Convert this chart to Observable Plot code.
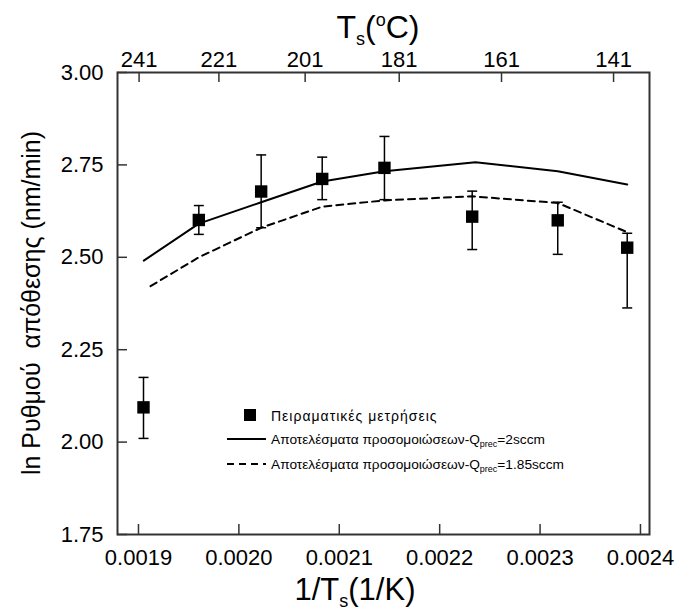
<!DOCTYPE html>
<html><head><meta charset="utf-8">
<script src="https://cdn.jsdelivr.net/npm/d3@7"></script>
<script src="https://cdn.jsdelivr.net/npm/@observablehq/plot@0.6"></script>
<style>body{margin:0;background:#fff;} #chart{width:675px;height:610px;}</style>
</head><body><div id="chart"></div>
<script>
// Experimental measurements
const invT     = [0.001905, 0.0019601, 0.0020222, 0.0020830, 0.0021450, 0.0022324, 0.0023176, 0.0023868];
const rate     = [2.094, 2.601, 2.678, 2.712, 2.742, 2.610, 2.600, 2.526];
const rateLow  = [2.010, 2.562, 2.580, 2.656, 2.656, 2.521, 2.508, 2.363];
const rateHigh = [2.175, 2.640, 2.777, 2.771, 2.827, 2.679, 2.649, 2.565];
// Simulation Qprec = 2 sccm
const sim2X = [0.0019053, 0.0019601, 0.0020222, 0.0020830, 0.0021450, 0.0022357, 0.0023176, 0.0023868];
const sim2Y = [2.491, 2.591, 2.649, 2.705, 2.733, 2.757, 2.733, 2.697];
// Simulation Qprec = 1.85 sccm
const sim185X = [0.001912, 0.0019601, 0.0020222, 0.0020830, 0.0021450, 0.0022324, 0.0023176, 0.0023868];
const sim185Y = [2.422, 2.500, 2.580, 2.637, 2.654, 2.665, 2.647, 2.568];
// Axes
const xTicks = [0.0019, 0.0020, 0.0021, 0.0022, 0.0023, 0.0024];
const yTicks = [1.75, 2.00, 2.25, 2.50, 2.75, 3.00];
const topTickPos = [0.0019006, 0.0019801, 0.0020660, 0.0021597, 0.0022616, 0.0023732];
const topTickLabels = ["241", "221", "201", "181", "161", "141"];
const xDomain = [0.0018791, 0.002409];
const yDomain = [1.75, 3.0];

const meas = invT.map((x, i) => ({x, y: rate[i], lo: rateLow[i], hi: rateHigh[i]}));
const s2 = sim2X.map((x, i) => ({x, y: sim2Y[i]}));
const s185 = sim185X.map((x, i) => ({x, y: sim185Y[i]}));
const topMap = new Map(topTickPos.map((v, i) => [v, topTickLabels[i]]));

const W = 675, H = 610, mL = 117, mR = 26, mT = 72, mB = 76;
const frameW = W - mL - mR, frameH = H - mT - mB, tickLen = 10;
const cap = {draw(ctx) { ctx.moveTo(-5, 0); ctx.lineTo(5, 0); }};
const FONT = "'Liberation Sans', Arial, sans-serif";

const chart = Plot.plot({
  width: W, height: H, marginLeft: mL, marginRight: mR, marginTop: mT, marginBottom: mB,
  style: {fontFamily: FONT, fontSize: "22px", color: "#000", background: "#fff"},
  x: {domain: xDomain},
  y: {domain: yDomain},
  marks: [
    Plot.axisX(xTicks, {anchor: "bottom", tickSize: 0, tickPadding: 15, tickFormat: d3.format(".4f"), label: null, fontSize: 22}),
    Plot.axisX(topTickPos, {anchor: "top", tickSize: 0, tickPadding: 6, tickFormat: d => topMap.get(d), label: null, fontSize: 22}),
    Plot.axisY(yTicks, {anchor: "left", tickSize: 0, tickPadding: 14, tickFormat: d3.format(".2f"), label: null, fontSize: 22}),
    Plot.ruleX(xTicks, {x: d => d, insetTop: frameH - tickLen, stroke: "#333", strokeWidth: 1.5}),
    Plot.ruleX(topTickPos, {x: d => d, insetBottom: frameH - tickLen, stroke: "#333", strokeWidth: 1.5}),
    Plot.ruleY(yTicks, {y: d => d, insetRight: frameW - tickLen, stroke: "#333", strokeWidth: 1.5}),
    Plot.line(s2, {x: "x", y: "y", stroke: "#000", strokeWidth: 2}),
    Plot.line(s185, {x: "x", y: "y", stroke: "#000", strokeWidth: 2, strokeDasharray: "7,5"}),
    Plot.ruleX(meas, {x: "x", y1: "lo", y2: "hi", stroke: "#000", strokeWidth: 1.5}),
    Plot.dot(meas, {x: "x", y: "lo", symbol: cap, stroke: "#000", strokeWidth: 1.5}),
    Plot.dot(meas, {x: "x", y: "hi", symbol: cap, stroke: "#000", strokeWidth: 1.5}),
    Plot.dot(meas, {x: "x", y: "y", symbol: "square", r: 7, fill: "#000", stroke: "none"}),
    Plot.frame({stroke: "#333", strokeWidth: 2})
  ]
});
document.getElementById("chart").appendChild(chart);

const svg = d3.select(chart);
const cx = mL + frameW / 2;
// top title
const tt = svg.append("text").attr("x", cx - 5).attr("y", 38).attr("text-anchor", "middle")
  .attr("font-family", FONT).attr("font-size", 32).attr("fill", "#000");
tt.append("tspan").text("T");
tt.append("tspan").attr("font-size", 18).attr("dy", 7).text("s");
tt.append("tspan").attr("dy", -7).text("(");
tt.append("tspan").attr("font-size", 18).attr("dy", -12).text("o");
tt.append("tspan").attr("dy", 12).text("C)");
// bottom title
const bt = svg.append("text").attr("x", cx - 28).attr("y", 600).attr("text-anchor", "middle")
  .attr("font-family", FONT).attr("font-size", 31).attr("fill", "#000");
bt.append("tspan").text("1/T");
bt.append("tspan").attr("font-size", 18).attr("dy", 7).text("s");
bt.append("tspan").attr("dy", -7).text("(1/K)");
// y title
svg.append("text").attr("transform", `translate(40,${mT + frameH / 2}) rotate(-90)`)
  .attr("text-anchor", "middle").attr("font-family", FONT).attr("font-size", 25).attr("fill", "#000")
  .attr("xml:space", "preserve").style("white-space", "pre")
  .text("ln Ρυθμού  απόθεσης (nm/min)");
// legend
const lg = svg.append("g").attr("font-family", FONT).attr("font-size", 14).attr("fill", "#000").attr("text-anchor", "start");
lg.append("rect").attr("x", 244).attr("y", 409).attr("width", 12).attr("height", 12).attr("fill", "#000");
lg.append("text").attr("x", 271).attr("y", 421).attr("text-anchor", "start").attr("letter-spacing", 1)
  .text("Πειραματικές μετρήσεις");
lg.append("line").attr("x1", 227).attr("x2", 266).attr("y1", 439).attr("y2", 439).attr("stroke", "#000").attr("stroke-width", 2);
lg.append("line").attr("x1", 227).attr("x2", 266).attr("y1", 464).attr("y2", 464).attr("stroke", "#000").attr("stroke-width", 2).attr("stroke-dasharray", "7,5");
[["=2sccm", 444], ["=1.85sccm", 469]].forEach(([tail, y]) => {
  const t = lg.append("text").attr("x", 271).attr("y", y).attr("text-anchor", "start").attr("font-size", 13.7);
  t.append("tspan").text("Αποτελέσματα προσομοιώσεων-Q");
  t.append("tspan").attr("font-size", 9).attr("dy", 3).text("prec");
  t.append("tspan").attr("dy", -3).text(tail);
});
</script>
</body></html>
